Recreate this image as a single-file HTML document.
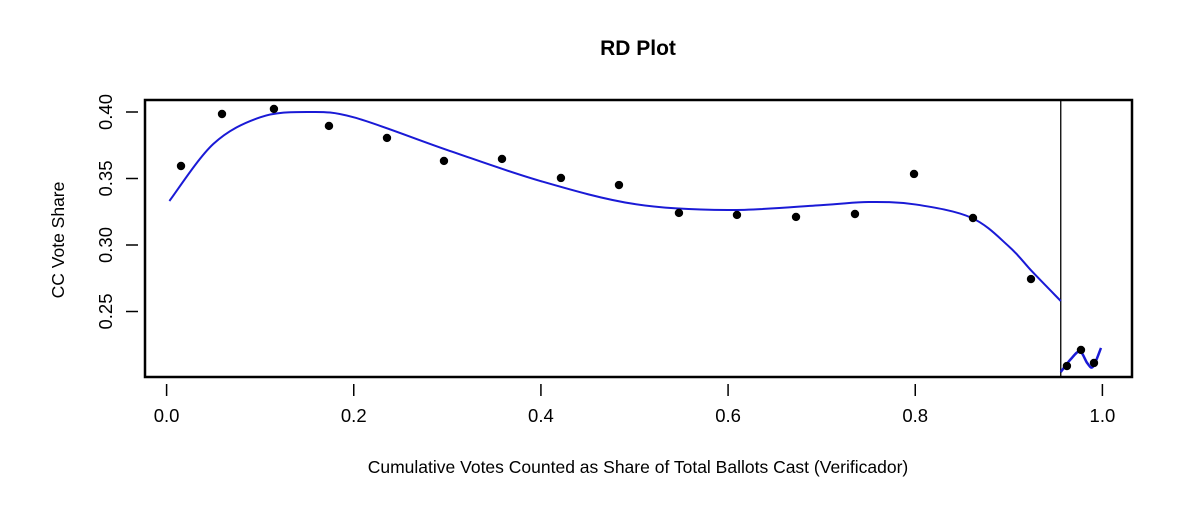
<!DOCTYPE html>
<html><head><meta charset="utf-8"><style>
body{margin:0;background:#fff;}
svg{display:block;font-family:"Liberation Sans",Arial,sans-serif;}
</style></head><body>
<svg id="chart" width="1200" height="511" viewBox="0 0 1200 511">
<text x="638" y="55" text-anchor="middle" font-size="21" font-weight="bold">RD Plot</text>
<rect x="145" y="100" width="987" height="277" fill="none" stroke="#000" stroke-width="2.5"/>
<g id="xaxis"></g>
<g id="yaxis"></g>
<g id="marks"></g>
<text x="638" y="473" text-anchor="middle" font-size="17.5">Cumulative Votes Counted as Share of Total Ballots Cast (Verificador)</text>
<text transform="translate(64,240) rotate(-90)" text-anchor="middle" font-size="17.5">CC Vote Share</text>
</svg>
<script>
const xTicks=[0,0.2,0.4,0.6,0.8,1.0];
const xTickLabels=["0.0","0.2","0.4","0.6","0.8","1.0"];
const yTicks=[0.25,0.30,0.35,0.40];
const yTickLabels=["0.25","0.30","0.35","0.40"];
const cutoff=0.9555;
const binX=[0.0154,0.0592,0.1147,0.1735,0.2355,0.2964,0.3584,0.4214,0.4834,0.5475,0.6095,0.6726,0.7356,0.7987,0.8617,0.9237,0.9621,0.9771,0.9910];
const binY=[0.3594,0.3985,0.4023,0.3895,0.3805,0.3632,0.3647,0.3504,0.3451,0.3241,0.3226,0.3211,0.3233,0.3534,0.3203,0.2744,0.2090,0.2211,0.2113];
const fitLeftX=[0.003,0.05,0.1,0.15,0.2,0.3,0.4,0.5,0.6,0.7,0.75,0.8,0.86,0.9,0.925,0.9555];
const fitLeftY=[0.3331,0.3760,0.3960,0.4000,0.3960,0.3714,0.3480,0.3308,0.3263,0.3300,0.3323,0.3305,0.3205,0.2990,0.2800,0.2579];
const fitRightX=[0.9555,0.966,0.976,0.984,0.990,0.9985];
const fitRightY=[0.2045,0.2140,0.2200,0.2110,0.2085,0.2226];

const sx=v=>166.6+v*935.8;
const sy=v=>112+(0.40-v)*1330;
const NS="http://www.w3.org/2000/svg";
function mk(tag,attrs,parent){const e=document.createElementNS(NS,tag);for(const k in attrs)e.setAttribute(k,attrs[k]);parent.appendChild(e);return e;}
const xa=document.getElementById('xaxis'),ya=document.getElementById('yaxis'),mg=document.getElementById('marks');
xTicks.forEach((t,i)=>{
 const l=mk('line',{x1:sx(t),x2:sx(t),y1:384,y2:396,stroke:'#000','stroke-width':1.5},xa);
 
 
 const tx=mk('text',{x:sx(t),y:422,'text-anchor':'middle','font-size':18.5},xa);
 tx.textContent=xTickLabels[i];
 
 
});
yTicks.forEach((t,i)=>{
 const l=mk('line',{x1:126,x2:138,y1:sy(t),y2:sy(t),stroke:'#000','stroke-width':1.5},ya);
 
 
 const tx=mk('text',{transform:`translate(112,${sy(t)}) rotate(-90)`,'text-anchor':'middle','font-size':18.5},ya);
 tx.textContent=yTickLabels[i];
 
 
});
const cl=mk('line',{x1:sx(cutoff),x2:sx(cutoff),y1:100,y2:377,stroke:'#000','stroke-width':1.3},mg);


function smooth(xs,ys){
 const p=xs.map((x,i)=>[sx(x),sy(ys[i])]);
 let d=`M${p[0][0]},${p[0][1]}`;
 for(let i=0;i<p.length-1;i++){
  const p0=p[i-1]||p[i],p1=p[i],p2=p[i+1],p3=p[i+2]||p2;
  const c1=[p1[0]+(p2[0]-p0[0])/6,p1[1]+(p2[1]-p0[1])/6];
  const c2=[p2[0]-(p3[0]-p1[0])/6,p2[1]-(p3[1]-p1[1])/6];
  d+=` C${c1[0]},${c1[1]} ${c2[0]},${c2[1]} ${p2[0]},${p2[1]}`;
 }
 return d;
}
const fl=mk('path',{d:smooth(fitLeftX,fitLeftY),fill:'none',stroke:'#1a1ad6','stroke-width':2},mg);


const fr=mk('path',{d:smooth(fitRightX,fitRightY),fill:'none',stroke:'#1a1ad6','stroke-width':2.5},mg);


binX.forEach((x,i)=>{
 const c=mk('circle',{cx:sx(x),cy:sy(binY[i]),r:4.2,fill:'#000'},mg);
 
 
});
</script>
</body></html>
